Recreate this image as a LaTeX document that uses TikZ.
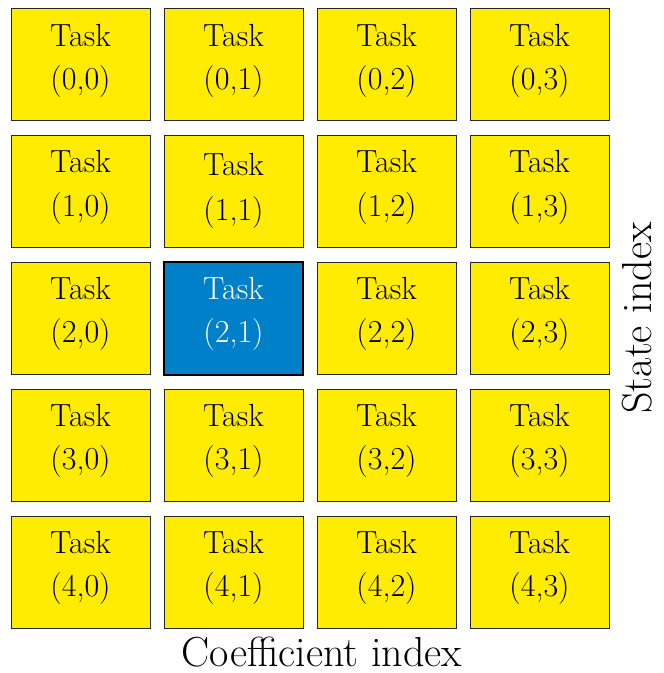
\documentclass[tikz,border=0pt]{standalone}
\definecolor{taskyellow}{RGB}{255,236,0}
\definecolor{taskblue}{RGB}{0,128,200}
\begin{document}
\begin{tikzpicture}[x=0.5pt,y=-0.5pt,
  taskbox/.style={draw=black!85,line width=0.5pt,fill=taskyellow,minimum width=69.5pt,minimum height=56pt,inner sep=0pt},
  activebox/.style={taskbox,fill=taskblue,draw=black,line width=1pt},
  tasktext/.style={align=center,inner sep=0pt,font=\fontsize{16}{21.7}\selectfont},
  axislabel/.style={font=\fontsize{21}{25}\selectfont,inner sep=0pt}]
\useasboundingbox (0,0) rectangle (663,673);
\foreach \r in {0,...,4}{
  \foreach \c in {0,...,3}{
    \pgfmathsetmacro{\cx}{80.5+153*\c}
    \pgfmathsetmacro{\cy}{65+126.75*\r}
    \ifnum\r=2 \ifnum\c=1
      \node[activebox] (t-\r-\c) at (\cx,\cy) {};
      \node[tasktext,text=white] (l-\r-\c) at ([yshift=2.2pt]t-\r-\c.center) {Task\\(\r,\c)};
    \else
      \node[taskbox] (t-\r-\c) at (\cx,\cy) {};
      \node[tasktext] (l-\r-\c) at ([yshift=2.2pt]t-\r-\c.center) {Task\\(\r,\c)};
    \fi\else
      \node[taskbox] (t-\r-\c) at (\cx,\cy) {};
      \ifnum\r=1 \ifnum\c=1
        \node[tasktext] (l-\r-\c) at ([yshift=0.5pt]t-\r-\c.center) {Task\\[1pt](\r,\c)};
      \else
        \node[tasktext] (l-\r-\c) at ([yshift=2.2pt]t-\r-\c.center) {Task\\(\r,\c)};
      \fi\else
        \node[tasktext] (l-\r-\c) at ([yshift=2.2pt]t-\r-\c.center) {Task\\(\r,\c)};
      \fi
    \fi
  }
}
\node[axislabel,anchor=base] (xlab) at (322,666) {Coefficient index};
\node[axislabel,rotate=90,anchor=base] (ylab) at (651,318) {State index};
\end{tikzpicture}
\end{document}
